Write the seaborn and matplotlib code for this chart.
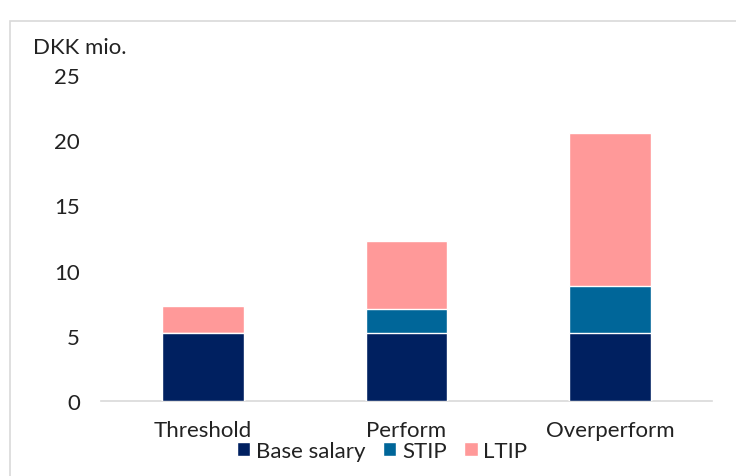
import matplotlib
matplotlib.use("Agg")
import matplotlib.pyplot as plt
import seaborn as sns
import pandas as pd
import numpy as np
from matplotlib.patches import Rectangle

categories = ["Threshold", "Perform", "Overperform"]
base_salary = [5.25, 5.25, 5.25]
stip = [0.0, 1.8, 3.6]
ltip = [2.0, 5.2, 11.7]
series_names = ["Base salary", "STIP", "LTIP"]
colors = ["#002060", "#006699", "#FF9999"]
yticks = [0, 5, 10, 15, 20, 25]

sns.set_theme(style="white")
plt.rcParams['font.family'] = ['Lato', 'DejaVu Sans']
FS = 16
TXT = "#222222"

fig = plt.figure(figsize=(7.36, 4.77), dpi=100)
ax = fig.add_axes([101/736, 1-402/477, 611/736, 326/477])

df = pd.DataFrame({"category": categories, "Base salary": base_salary,
                   "STIP": stip, "LTIP": ltip})
bottom = np.zeros(len(categories))
for i, (name, col) in enumerate(zip(series_names, colors)):
    tops = bottom + df[name].values
    sns.barplot(x=df["category"], y=tops, color=col, width=0.4, ax=ax,
                label=name, zorder=5 - i, saturation=1, legend=False)
    bottom = tops

if ax.get_legend() is not None:
    ax.get_legend().remove()

ax.set_xlim(-0.5, 2.5)
ax.set_ylim(0, 25)
ax.set_yticks(yticks)
ax.set_yticklabels([str(t) for t in yticks], fontsize=FS, color=TXT)
ax.tick_params(axis="x", labelsize=FS, colors=TXT, length=0, pad=14)
ax.tick_params(axis="y", length=0, pad=15)
ax.set_xlabel("")
ax.set_ylabel("")
for s in ["top", "right", "left"]:
    ax.spines[s].set_visible(False)
ax.spines["bottom"].set_color("#D9D9D9")
ax.spines["bottom"].set_linewidth(1.2)

fig.text(33/736, 1-48/477, "DKK mio.", fontsize=FS, color=TXT, va="center", ha="left")

handles, labels = ax.get_legend_handles_labels()
order = [labels.index(n) for n in series_names]
leg = fig.legend([handles[i] for i in order], [labels[i] for i in order],
                 loc="center", bbox_to_anchor=(382/736, 1-452/477), ncol=3,
                 frameon=False, fontsize=FS, handlelength=0.6, handleheight=0.6,
                 handletextpad=0.25, columnspacing=0.8)
for t in leg.get_texts():
    t.set_color(TXT)

fig.patches.append(Rectangle((10/736, -0.1), 1.0, 1 - 22/477 + 0.1,
                             transform=fig.transFigure, fill=False,
                             edgecolor="#D9D9D9", linewidth=1.2))

fig.savefig("out.png", dpi=100)
